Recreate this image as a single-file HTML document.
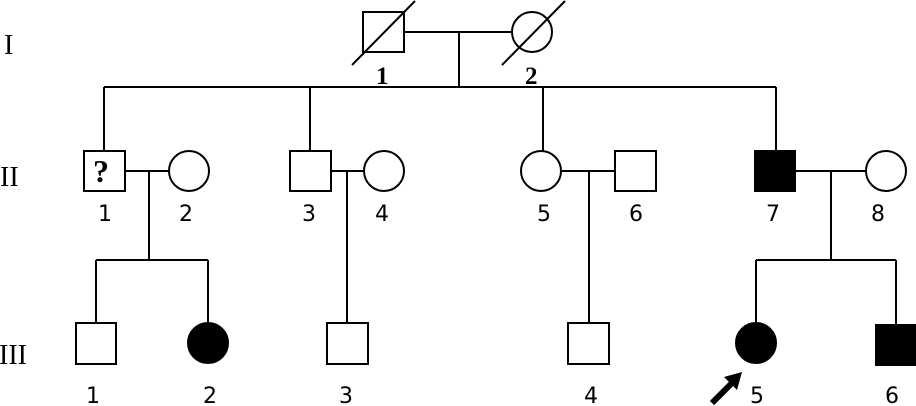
<!DOCTYPE html>
<html><head><meta charset="utf-8"><style>
html,body{margin:0;padding:0;background:#fff;}
svg{display:block;}
</style></head><body>
<svg width="916" height="406" viewBox="0 0 916 406" xmlns="http://www.w3.org/2000/svg">
<g stroke="#000" stroke-width="2" fill="none">
<rect x="363" y="12" width="41" height="40" fill="#fff"/>
<line x1="352" y1="65" x2="415" y2="1"/>
<circle cx="532" cy="32" r="20" fill="#fff"/>
<line x1="502" y1="65" x2="565" y2="1"/>
<line x1="404" y1="32" x2="512" y2="32"/>
<line x1="459" y1="32" x2="459" y2="87"/>
<line x1="104" y1="87" x2="776" y2="87"/>
<line x1="104" y1="87" x2="104" y2="152"/>
<line x1="310" y1="87" x2="310" y2="152"/>
<line x1="543" y1="87" x2="543" y2="152"/>
<line x1="776" y1="87" x2="776" y2="152"/>
<rect x="84" y="151" width="41" height="40" fill="#fff"/>
<circle cx="189" cy="171" r="20" fill="#fff"/>
<line x1="125" y1="171" x2="169" y2="171"/>
<line x1="149" y1="171" x2="149" y2="260"/>
<rect x="290" y="151" width="41" height="40" fill="#fff"/>
<circle cx="384" cy="171" r="20" fill="#fff"/>
<line x1="331" y1="171" x2="364" y2="171"/>
<line x1="347" y1="171" x2="347" y2="322"/>
<circle cx="541" cy="171" r="20" fill="#fff"/>
<rect x="615" y="151" width="41" height="40" fill="#fff"/>
<line x1="561" y1="171" x2="615" y2="171"/>
<line x1="589" y1="171" x2="589" y2="322"/>
<rect x="755" y="151" width="40" height="40" fill="#000"/>
<circle cx="886" cy="171" r="20" fill="#fff"/>
<line x1="795" y1="171" x2="866" y2="171"/>
<line x1="831" y1="171" x2="831" y2="260"/>
<line x1="96" y1="260" x2="208" y2="260"/>
<line x1="96" y1="260" x2="96" y2="322"/>
<line x1="208" y1="260" x2="208" y2="322"/>
<line x1="756" y1="260" x2="896" y2="260"/>
<line x1="756" y1="260" x2="756" y2="322"/>
<line x1="896" y1="260" x2="896" y2="325"/>
<rect x="76" y="323" width="40" height="41" fill="#fff"/>
<circle cx="208" cy="343" r="20" fill="#000"/>
<rect x="327" y="323" width="41" height="41" fill="#fff"/>
<rect x="568" y="323" width="41" height="41" fill="#fff"/>
<circle cx="756" cy="343" r="20" fill="#000"/>
<rect x="876" y="325" width="39" height="40" fill="#000"/>
</g>
<line x1="712" y1="403" x2="733" y2="382" stroke="#000" stroke-width="6"/>
<polygon points="742,372 724,377 737,390" fill="#000"/>
<g font-family="Liberation Serif, serif" font-size="28" fill="#000">
<text x="4" y="54">I</text>
<text x="0" y="186">II</text>
<text x="-1" y="364">III</text>
<text x="93" y="182" font-size="32" font-weight="bold">?</text>
<text x="376" y="84" font-size="25" font-weight="bold">1</text>
<text x="525" y="84" font-size="25" font-weight="bold">2</text>
</g>
<g font-family="DejaVu Sans, Liberation Sans, sans-serif" font-size="22" fill="#000" text-anchor="middle">
<text x="105" y="221">1</text><text x="186" y="221">2</text>
<text x="309" y="221">3</text><text x="382" y="221">4</text>
<text x="544" y="221">5</text><text x="636" y="221">6</text>
<text x="773" y="221">7</text><text x="878" y="221">8</text>
<text x="93" y="403">1</text><text x="210" y="403">2</text>
<text x="346" y="403">3</text><text x="591" y="403">4</text>
<text x="757" y="403">5</text><text x="892" y="403">6</text>
</g>
</svg>
</body></html>
